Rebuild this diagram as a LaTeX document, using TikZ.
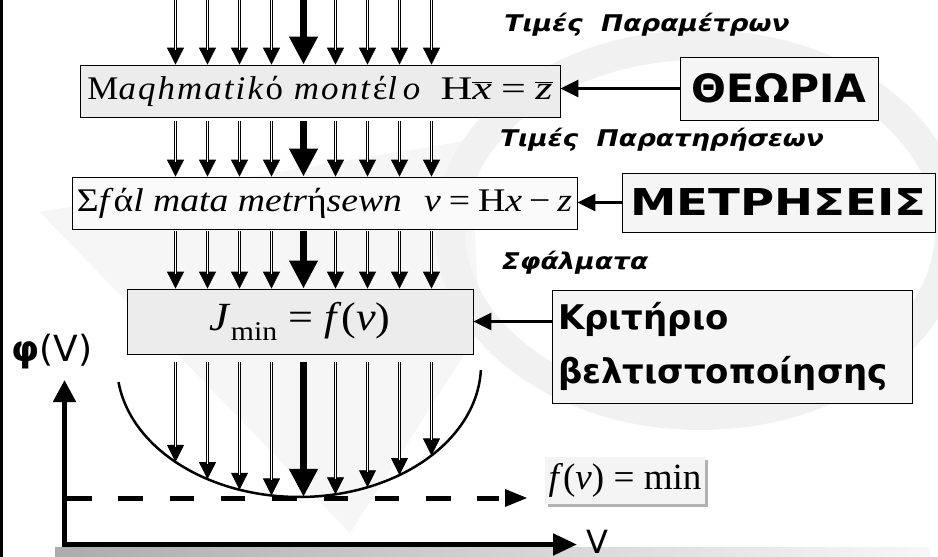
\documentclass[tikz,border=0pt]{standalone}
\usepackage{graphicx}
\usepackage{fontspec}
\setmainfont{Liberation Serif}
\newfontfamily\lsfont[LetterSpace=6]{Liberation Serif}
\newfontfamily\comicfont[FakeStretch=1.15]{DejaVu Sans}
\newfontfamily\sansfont{DejaVu Sans}
\usetikzlibrary{arrows.meta,calc,shadows}
\newcommand\fitw[2]{\resizebox{#1}{\height}{#2}}
\newcommand\thinarr[2]{%
  \draw[line width=0.8pt,-{Triangle[length=17pt,width=17pt]}] #1 -- #2;
  \draw[double=white,double distance=1.6pt,line width=0.8pt,shorten >=15pt] #1 -- #2;}
\newcommand\thickarr[2]{%
  \draw[line width=7pt,-{Triangle[length=28pt,width=27pt]}] #1 -- #2;}
\begin{document}
\begin{tikzpicture}[x=1pt,y=-1pt,
  box/.style={draw=black,line width=0.8pt,inner sep=0pt},
  lbl/.style={font=\comicfont\bfseries\itshape\fontsize{23}{25}\selectfont,inner sep=0pt},
  bigl/.style={font=\sansfont\bfseries\fontsize{39}{44}\selectfont},
  conn/.style={line width=3pt,-{Triangle[length=18pt,width=17pt]}},
  axis/.style={line width=5pt}]
\useasboundingbox (0,0) rectangle (938,557);
\fill[white] (0,0) rectangle (938,557);
% faint watermark
\fill[gray!7] (40,212) -- (470,140) -- (480,330) -- (350,533) -- cycle;
\draw[gray!11,line width=30pt] (700,230) ellipse [x radius=250, y radius=185];
\fill[black] (0,0) rectangle (3,557);
% boxes
\node[box,fill=gray!15,minimum width=480pt,minimum height=52pt] (b1) at (320,91)
  {\fontsize{33}{36}\selectfont\fitw{335pt}{\lsfont M\textit{aqhmatik}ό \textit{mont}έ\textit{l\,o}}\hspace{18pt}\fitw{112pt}{H$\overline{\mbox{\textit{x}}}$\hspace{7pt}=\hspace{7pt}$\overline{\mbox{\textit{z}}}$}};
\node[box,fill=gray!4,minimum width=505pt,minimum height=52pt] (b2) at (324.5,203)
  {\fontsize{33}{36}\selectfont\fitw{325pt}{Σ\textit{f}ά\textit{l mata metr}ή\textit{sewn}}\hspace{22pt}\fitw{148pt}{\textit{v}\hspace{7pt}=\hspace{7pt}H\textit{x}\hspace{6pt}−\hspace{6pt}\textit{z}}};
\node[box,fill=gray!15,minimum width=346pt,minimum height=65pt] (b3) at (300,321.5)
  {\fontsize{40}{44}\selectfont\fitw{181pt}{\textit{J}\raisebox{-10pt}{\fontsize{27}{27}\selectfont min} = \textit{f}(\textit{v})}};
\node[box,fill=gray!8,minimum width=198pt,minimum height=63pt,bigl] (th) at (779,88.5) {\fitw{175pt}{ΘΕΩΡΙΑ}};
\node[box,fill=gray!8,minimum width=313pt,minimum height=59pt,font=\sansfont\bfseries\fontsize{37}{40}\selectfont] (me) at (778.5,202.5) {\fitw{296pt}{ΜΕΤΡΗΣΕΙΣ}};
\node[box,fill=gray!8,minimum width=360pt,minimum height=113pt,text width=348pt,align=left,
  font=\sansfont\bfseries\fontsize{34}{54}\selectfont] (kr) at (732,346.5) {Κριτήριο\\βελτιστοποίησης};
\node[fill=gray!9,minimum width=160pt,minimum height=47pt,inner sep=0pt,
  drop shadow={shadow xshift=3pt,shadow yshift=-3pt,fill=gray!60,opacity=1}] (fm) at (625,480.5)
  {\fontsize{37}{40}\selectfont\fitw{153pt}{\textit{f}(\textit{v}) = min}};
% labels
\node[lbl] (l1) at (647,25) {Τιμές\ \ Παραμέτρων};
\node[lbl] (l2) at (662,140) {Τιμές\ \ Παρατηρήσεων};
\node[lbl] (l3) at (575,263) {Σφάλματα};
% arrow rain
\foreach \k in {0,...,8}{
  \pgfmathsetmacro\xx{175.5+32*\k}
  \pgfmathsetmacro\yy{365+132*sqrt(1-((\xx-299)/182)^2)}
  \ifnum\k=4
    \thickarr{(\xx,0)}{(\xx,0 |- b1.north)}
    \thickarr{(\xx,121)}{(\xx,0 |- b2.north)}
    \thickarr{(\xx,231)}{(\xx,0 |- b3.north)}
    \thickarr{(\xx,362)}{(\xx,\yy)}
  \else
    \thinarr{(\xx,0)}{(\xx,0 |- b1.north)}
    \thinarr{(\xx,121)}{(\xx,0 |- b2.north)}
    \thinarr{(\xx,231)}{(\xx,0 |- b3.north)}
    \thinarr{(\xx,362)}{(\xx,\yy)}
  \fi
}
% connectors
\draw[conn] (th.west) -- (th.west -| b1.east);
\draw[conn] (me.west) -- (me.west -| b2.east);
\draw[conn] (kr.west |- b3.east) -- (b3.east);
% bowl
\draw[line width=2.5pt] plot[domain=172.6:2.2,samples=90,smooth] ({299+182*cos(\x)},{365+132*sin(\x)});
% axes
\shade[left color=gray!65,right color=gray!6] (55,547) rectangle (930,557);
\coordinate (o) at (64.5,544.5);
\coordinate (ytop) at (64.5,380);
\coordinate (xend) at (577,544.5);
\draw[axis,line join=miter,{Triangle[length=22pt,width=22pt]}-{Triangle[length=24pt,width=21pt]}] (ytop) -- (o) -- (xend);
\coordinate (d0) at (67,498);
\coordinate (d1) at (499,498);
\coordinate (dt) at (527,498);
\draw[line width=5pt,dash pattern=on 24.5pt off 26.8pt] (d0) -- (d1);
\fill ($(dt)+(-22,-9)$) -- (dt) -- ($(dt)+(-22,9)$) -- cycle;
\node[font=\sansfont\fontsize{36}{40}\selectfont,inner sep=0pt] (phi) at (52,352) {\textbf{φ}(V)};
\node[font=\sansfont\fontsize{32}{36}\selectfont,inner sep=0pt,anchor=base] (vl) at (597,553) {V};
\end{tikzpicture}
\end{document}
